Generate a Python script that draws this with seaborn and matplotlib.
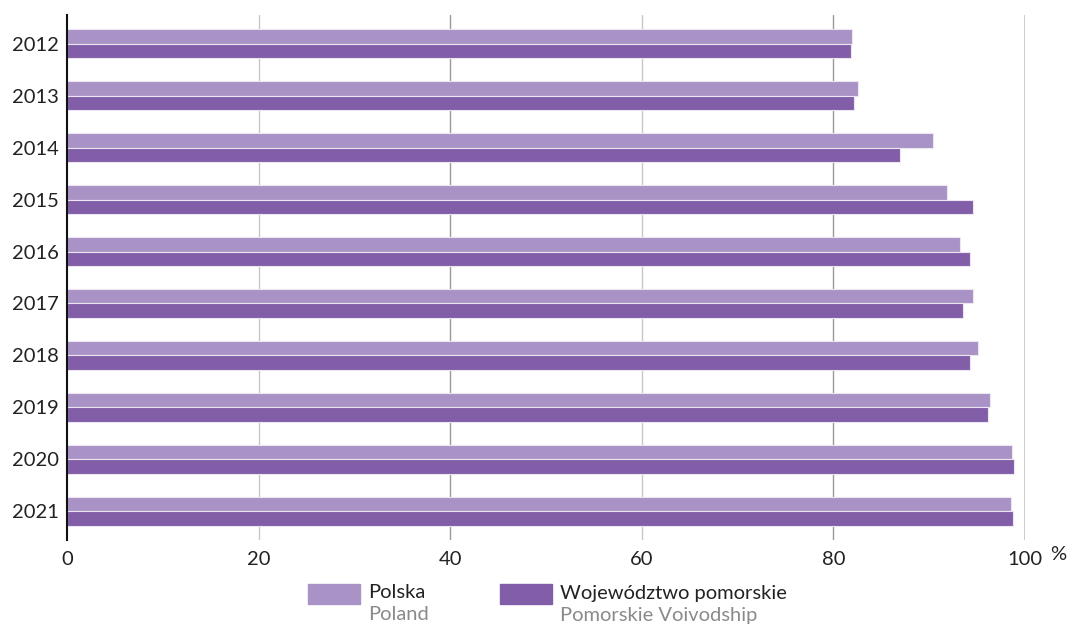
import pandas as pd
import matplotlib.pyplot as plt
import seaborn as sns
from matplotlib.patches import Rectangle

years = ["2012", "2013", "2014", "2015", "2016", "2017", "2018", "2019", "2020", "2021"]
polska = [81.9, 82.6, 90.4, 91.9, 93.2, 94.6, 95.1, 96.3, 98.6, 98.5]
pomorskie = [81.8, 82.2, 86.9, 94.6, 94.3, 93.5, 94.3, 96.1, 98.8, 98.7]
series = ["Polska", "Województwo pomorskie"]
series_en = ["Poland", "Pomorskie Voivodship"]
colors = ["#a992c6", "#825ea8"]
xticks = [0, 20, 40, 60, 80, 100]

df = pd.DataFrame({
    "year": years * 2,
    "value": polska + pomorskie,
    "series": [series[0]] * len(years) + [series[1]] * len(years),
})

sns.set_style("white")
plt.rcParams["font.family"] = ["Lato", "DejaVu Sans"]

fig = plt.figure(figsize=(10.67, 6.26), dpi=100)
ax = fig.add_axes([67 / 1067, 86 / 626, (1025 - 67) / 1067, (611 - 86) / 626])

sns.barplot(data=df, x="value", y="year", hue="series", hue_order=series,
            palette=colors, saturation=1, orient="h", width=0.55, gap=0,
            edgecolor="#ece6f3", linewidth=0.8, legend=False, ax=ax, zorder=3)

ax.set_xlim(0, 100)
ax.set_xticks(xticks)
ax.set_xticklabels([str(t) for t in xticks], fontsize=14.5, color="#222222")
ax.tick_params(axis="y", labelsize=14.5, labelcolor="#222222", length=0, pad=6)
ax.tick_params(axis="x", length=0, pad=8)
ax.set_xlabel("")
ax.set_ylabel("")
ax.set_ylim(9.55, -0.55)

ax.grid(axis="x", zorder=0)
grid_cols = ["#ffffff", "#c8c8c8", "#999999", "#c8c8c8", "#999999", "#c8c8c8"]
grid_lw = [0, 1, 1, 1, 1, 2]
for gl, c, lw in zip(ax.get_xgridlines(), grid_cols, grid_lw):
    gl.set_color(c)
    gl.set_linewidth(lw)
ax.set_axisbelow(True)

for s in ["top", "right", "bottom"]:
    ax.spines[s].set_visible(False)
ax.spines["left"].set_color("#111111")
ax.spines["left"].set_linewidth(1.5)
ax.spines["left"].set_zorder(5)

fig.text(1050 / 1067, 1 - 555 / 626, "%", fontsize=14.5, color="#222222",
         ha="left", va="center")

# legend
lx = [308, 500]
for i in range(2):
    fig.add_artist(Rectangle((lx[i] / 1067, 1 - 604 / 626), 52 / 1067, 20 / 626,
                             transform=fig.transFigure, color=colors[i]))
    fig.text((lx[i] + 60) / 1067, 1 - 593 / 626, series[i], fontsize=14.5,
             color="#222222", ha="left", va="center")
    fig.text((lx[i] + 60) / 1067, 1 - 615 / 626, series_en[i], fontsize=14.5,
             color="#8a8a8a", ha="left", va="center")

fig.savefig("out.png", dpi=100)
